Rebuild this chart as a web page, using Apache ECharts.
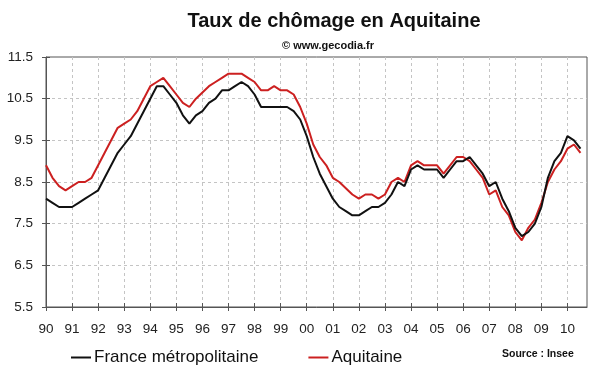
<!DOCTYPE html>
<html><head><meta charset="utf-8">
<script src="https://cdn.jsdelivr.net/npm/echarts@6/dist/echarts.min.js"></script>
<style>html,body{margin:0;padding:0;background:#fff}#c{width:600px;height:372px}</style>
</head><body><div id="c"></div><script>
// Quarterly categories 1990 T1 .. 2010 T4
const years = [];
for (let y = 1990; y <= 2010; y++) years.push(y);
const categories = [];
years.forEach(y => { for (let q = 1; q <= 4; q++) categories.push(y + ' T' + q); });
const xTickLabels = ['90','91','92','93','94','95','96','97','98','99','00','01','02','03','04','05','06','07','08','09','10'];
const yTicks = [5.5, 6.5, 7.5, 8.5, 9.5, 10.5, 11.5];

const franceMetro = [
  8.1, 8.0, 7.9, 7.9, 7.9, 8.0, 8.1, 8.2, 8.3, 8.6,
  8.9, 9.2, 9.4, 9.6, 9.9, 10.2, 10.5, 10.8, 10.8, 10.6,
  10.4, 10.1, 9.9, 10.1, 10.2, 10.4, 10.5, 10.7, 10.7, 10.8,
  10.9, 10.8, 10.6, 10.3, 10.3, 10.3, 10.3, 10.3, 10.2, 10.0,
  9.6, 9.1, 8.7, 8.4, 8.1, 7.9, 7.8, 7.7, 7.7, 7.8,
  7.9, 7.9, 8.0, 8.2, 8.5, 8.4, 8.8, 8.9, 8.8, 8.8,
  8.8, 8.6, 8.8, 9.0, 9.0, 9.1, 8.9, 8.7, 8.4, 8.5,
  8.1, 7.8, 7.4, 7.2, 7.3, 7.5, 7.9, 8.6, 9.0, 9.2,
  9.6, 9.5, 9.3
];
const aquitaine = [
  8.9, 8.6, 8.4, 8.3, 8.4, 8.5, 8.5, 8.6, 8.9, 9.2,
  9.5, 9.8, 9.9, 10.0, 10.2, 10.5, 10.8, 10.9, 11.0, 10.8,
  10.6, 10.4, 10.3, 10.5, 10.65, 10.8, 10.9, 11.0, 11.1, 11.1,
  11.1, 11.0, 10.9, 10.7, 10.7, 10.8, 10.7, 10.7, 10.6, 10.3,
  9.9, 9.4, 9.1, 8.9, 8.6, 8.5, 8.35, 8.2, 8.1, 8.2,
  8.2, 8.1, 8.2, 8.5, 8.6, 8.5, 8.9, 9.0, 8.9, 8.9,
  8.9, 8.7, 8.9, 9.1, 9.1, 9.0, 8.8, 8.6, 8.2, 8.3,
  7.9, 7.7, 7.3, 7.1, 7.4, 7.6, 8.0, 8.5, 8.8, 9.0,
  9.3, 9.4, 9.2
];

const FONT = "'Liberation Sans', Arial, sans-serif";
const AXIS = '#555';
const GRIDC = '#c4c4c4';
const chart = echarts.init(document.getElementById('c'), null, {renderer: 'canvas'});
chart.setOption({
  animation: false,
  backgroundColor: '#fff',
  title: [
    {text: 'Taux de chômage en Aquitaine', left: 329, top: 6, textAlign: 'center',
     textStyle: {fontFamily: FONT, fontSize: 20, fontWeight: 'bold', color: '#111'}},
    {text: '© www.gecodia.fr', left: 323, top: 35, textAlign: 'center',
     textStyle: {fontFamily: FONT, fontSize: 11, fontWeight: 'bold', color: '#111'}}
  ],
  grid: {left: 46, right: 13, top: 57, bottom: 65, show: true, borderColor: AXIS, borderWidth: 1},
  legend: {
    left: 66, top: 344, itemGap: 50, itemWidth: 20, itemHeight: 2, icon: 'rect',
    textStyle: {fontFamily: FONT, fontSize: 17, color: '#111', padding: [0, 0, 0, -2]},
    data: ['France métropolitaine', 'Aquitaine']
  },
  xAxis: [{
    type: 'category', data: categories, boundaryGap: false, position: 'bottom',
    axisLine: {show: true, lineStyle: {color: AXIS}},
    axisTick: {show: true, interval: 3, length: 4, lineStyle: {color: AXIS}},
    axisLabel: {interval: 3, margin: 15, fontFamily: FONT, fontSize: 13.5, color: '#222',
      formatter: (v, idx) => xTickLabels[Math.floor(idx / 4)]},
    splitLine: {show: true, interval: 3, lineStyle: {type: [3, 3], color: GRIDC}}
  }, {
    type: 'category', data: categories, boundaryGap: false, position: 'bottom',
    axisLine: {show: false},
    axisTick: {show: true, inside: true, interval: 3, length: 4, lineStyle: {color: AXIS}},
    axisLabel: {show: false}, splitLine: {show: false}
  }],
  yAxis: [{
    type: 'value', min: 5.5, max: 11.5, position: 'left',
    axisLine: {show: true, lineStyle: {color: AXIS}},
    axisTick: {show: true, customValues: yTicks, length: 4, lineStyle: {color: AXIS}},
    axisLabel: {customValues: yTicks, margin: 13, fontFamily: FONT, fontSize: 13.5, color: '#222',
      formatter: v => v.toFixed(1)},
    splitLine: {show: true, showMinLine: false, showMaxLine: false, lineStyle: {type: [3, 3], color: GRIDC}}
  }, {
    type: 'value', min: 5.5, max: 11.5, position: 'left',
    axisLine: {show: false},
    axisTick: {show: true, inside: true, customValues: yTicks, length: 4, lineStyle: {color: AXIS}},
    axisLabel: {show: false}, splitLine: {show: false}
  }],
  graphic: [
    {type: 'text', left: 502, top: 349, style: {text: 'Source : Insee', font: "bold 10.5px 'Liberation Sans', Arial", fill: '#111'}}
  ],
  series: [
    {name: 'France métropolitaine', type: 'line', data: franceMetro, symbol: 'none',
     xAxisIndex: 0, yAxisIndex: 0,
     lineStyle: {color: '#111', width: 2}, itemStyle: {color: '#111'}, z: 3},
    {name: 'Aquitaine', type: 'line', data: aquitaine, symbol: 'none',
     xAxisIndex: 0, yAxisIndex: 0,
     lineStyle: {color: '#cc2020', width: 2}, itemStyle: {color: '#cc2020'}, z: 2}
  ]
});
</script></body></html>
